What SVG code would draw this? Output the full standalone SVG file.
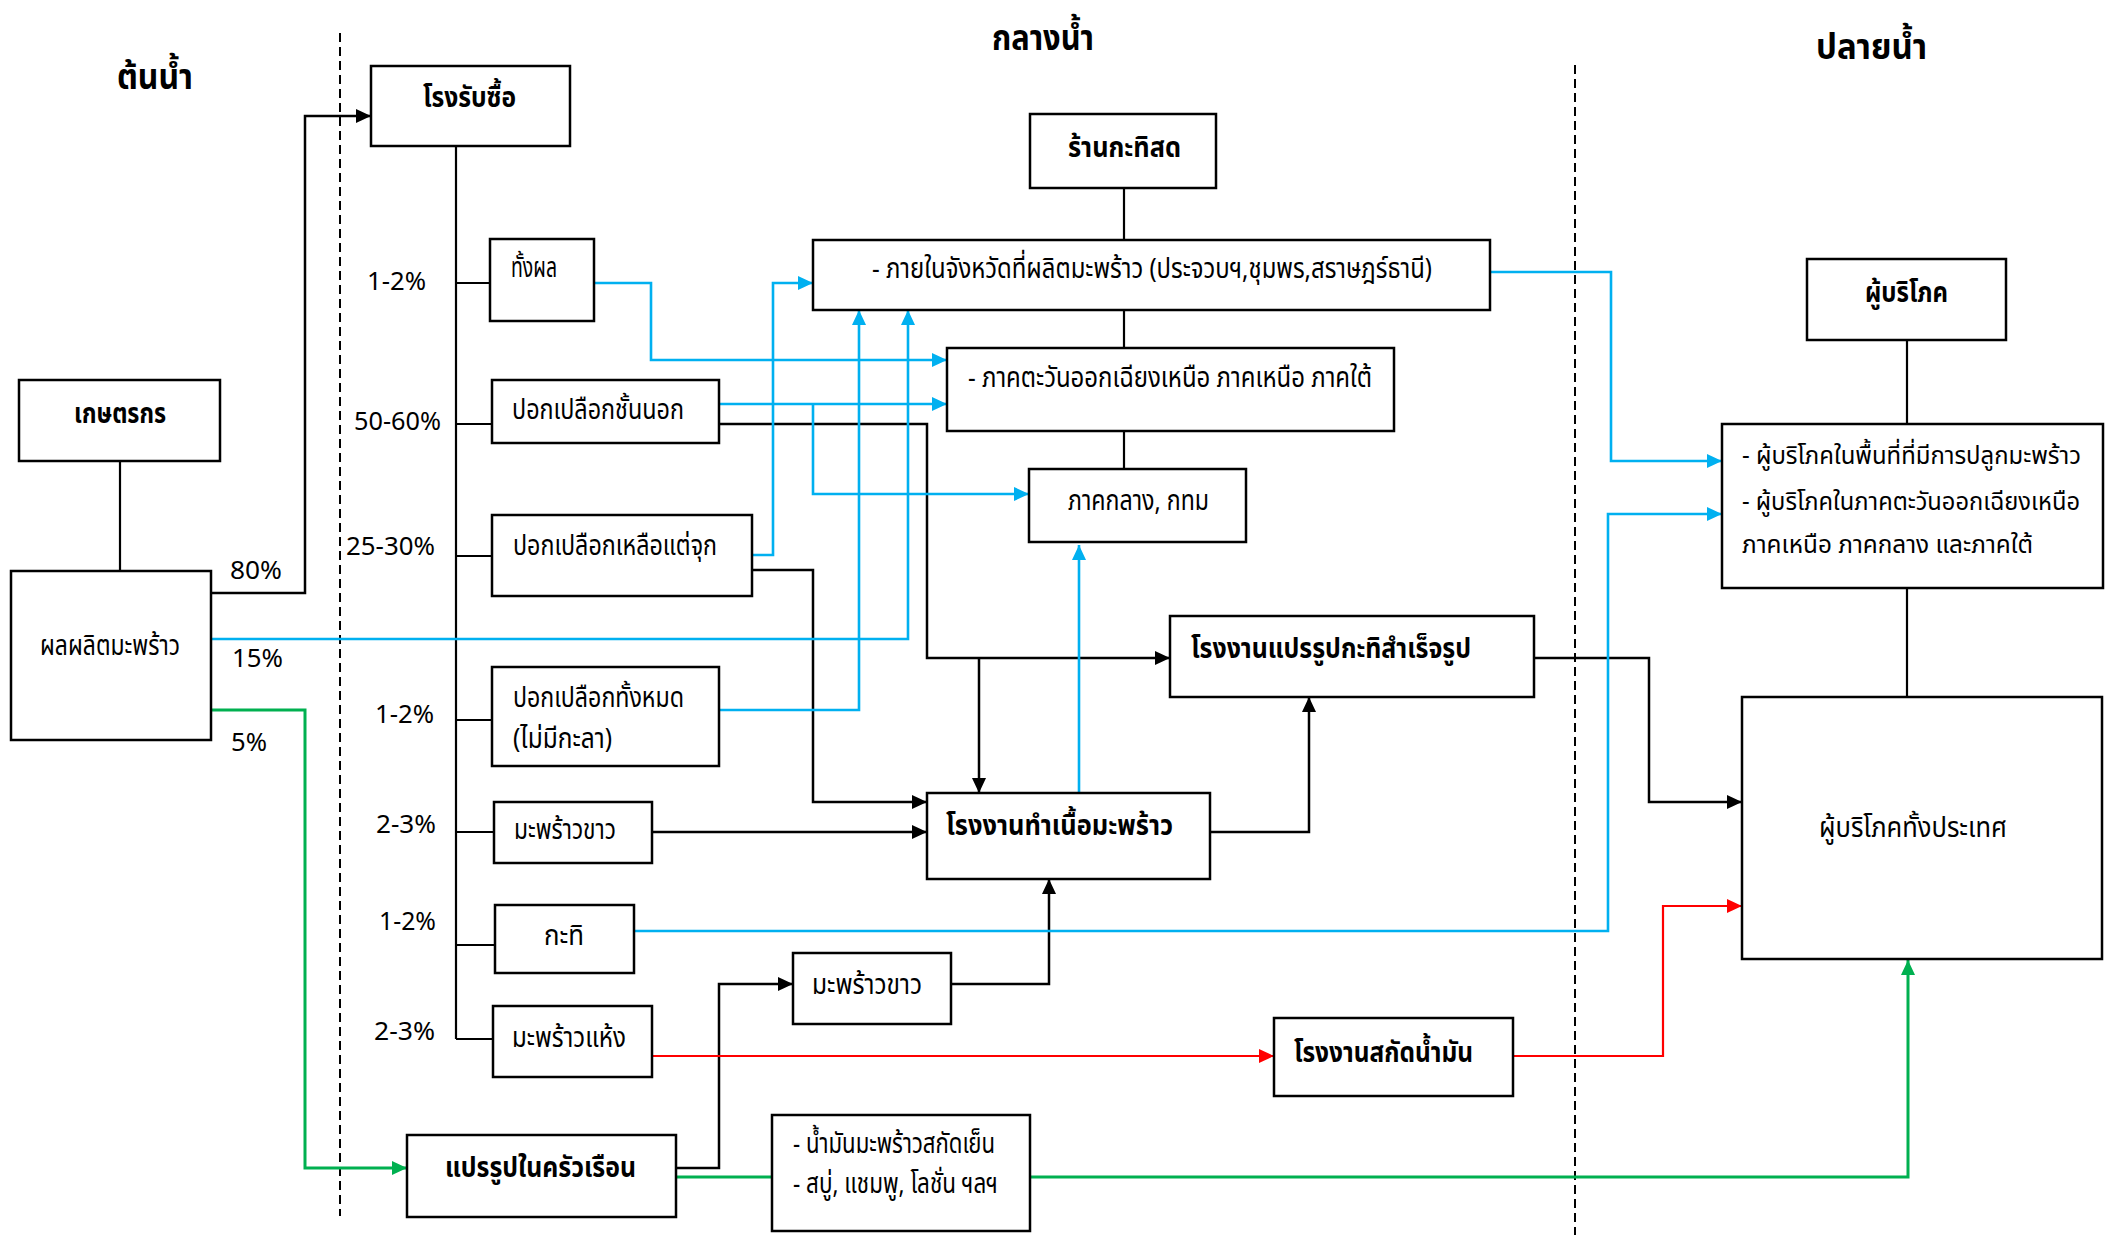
<svg xmlns="http://www.w3.org/2000/svg" width="2114" height="1235" viewBox="0 0 2114 1235">
<style>
text{font-family:"Noto Sans Thai","Noto Sans","Liberation Sans",sans-serif;fill:#000;}
.t{font-size:28px;}
.ts{font-size:25px;}
.b{font-size:28px;font-weight:bold;}
.h{font-size:35px;font-weight:bold;}
.p{font-size:25px;}
.box{fill:#fff;stroke:#000;stroke-width:2.5;}
.k{fill:none;stroke:#000;stroke-width:2.2;}
.ka{fill:none;stroke:#000;stroke-width:2.5;marker-end:url(#ak);}
.bla{fill:none;stroke:#00B0F0;stroke-width:2.6;marker-end:url(#ab);}
.rda{fill:none;stroke:#FF0000;stroke-width:2.2;marker-end:url(#ar);}
.gna{fill:none;stroke:#00B050;stroke-width:3;marker-end:url(#ag);}
.dash{fill:none;stroke:#000;stroke-width:2;stroke-dasharray:9 5;}
</style>
<defs>
<marker id="ak" markerUnits="userSpaceOnUse" markerWidth="15" markerHeight="14" refX="15" refY="7" orient="auto"><path d="M0,0 L15,7 L0,14 z" fill="#000"/></marker>
<marker id="ab" markerUnits="userSpaceOnUse" markerWidth="15" markerHeight="14" refX="15" refY="7" orient="auto"><path d="M0,0 L15,7 L0,14 z" fill="#00B0F0"/></marker>
<marker id="ar" markerUnits="userSpaceOnUse" markerWidth="15" markerHeight="14" refX="15" refY="7" orient="auto"><path d="M0,0 L15,7 L0,14 z" fill="#FF0000"/></marker>
<marker id="ag" markerUnits="userSpaceOnUse" markerWidth="15" markerHeight="14" refX="15" refY="7" orient="auto"><path d="M0,0 L15,7 L0,14 z" fill="#00B050"/></marker>
</defs>
<rect width="2114" height="1235" fill="#fff"/>

<g id="stage-lines">
<line class="dash" x1="340" y1="33" x2="340" y2="1216"/>
<line class="dash" x1="1575" y1="65" x2="1575" y2="1235"/>
</g>
<g id="stage-titles">
<text class="h" x="117" y="89" textLength="76" lengthAdjust="spacingAndGlyphs">ต้นน้ำ</text>
<text class="h" x="992" y="50" textLength="102" lengthAdjust="spacingAndGlyphs">กลางน้ำ</text>
<text class="h" x="1816" y="59" textLength="111" lengthAdjust="spacingAndGlyphs">ปลายน้ำ</text>
</g>

<g id="connectors">
<path class="k" d="M120,461 V571"/>
<path class="k" d="M456,146 V1039"/>
<path class="k" d="M456,283 H490 M456,424 H492 M456,556 H492 M456,720 H492 M456,832 H494 M456,945 H495 M456,1039 H493"/>
<path class="k" d="M1124,188 V240 M1124,310 V348 M1124,431 V469"/>
<path class="k" d="M1907,340 V424 M1907,588 V697"/>
<path class="ka" d="M211,593 H305 V116 H371"/>
<path class="ka" d="M719,424 H927 V658 H1170"/>
<path class="ka" d="M979,658 V793"/>
<path class="ka" d="M752,570 H813 V802 H927"/>
<path class="ka" d="M652,832 H927"/>
<path class="ka" d="M1210,832 H1309 V697"/>
<path class="ka" d="M951,984 H1049 V879"/>
<path class="ka" d="M676,1168 H719 V984 H793"/>
<path class="ka" d="M1534,658 H1649 V802 H1742"/>
<path class="bla" d="M594,283 H651 V360 H947"/>
<path class="bla" d="M719,404 H947"/>
<path class="bla" d="M813,404 V494 H1029"/>
<path class="bla" d="M752,555 H773 V283 H813"/>
<path class="bla" d="M719,710 H859 V310"/>
<path class="bla" d="M211,639 H908 V310"/>
<path class="bla" d="M1490,272 H1611 V461 H1722"/>
<path class="bla" d="M634,931 H1608 V514 H1722"/>
<path class="bla" d="M1079,793 V545"/>
<path class="rda" d="M652,1056 H1274"/>
<path class="rda" d="M1513,1056 H1663 V906 H1742"/>
<path class="gna" d="M211,710 H305 V1168 H407"/>
<path class="gna" d="M676,1177 H1908 V960"/>
</g>

<g id="percent-labels">
<text class="p" x="230" y="579" textLength="52" lengthAdjust="spacingAndGlyphs">80%</text>
<text class="p" x="232" y="667" textLength="51" lengthAdjust="spacingAndGlyphs">15%</text>
<text class="p" x="231" y="751" textLength="36" lengthAdjust="spacingAndGlyphs">5%</text>
<text class="p" x="367" y="290" textLength="59" lengthAdjust="spacingAndGlyphs">1-2%</text>
<text class="p" x="354" y="430" textLength="87" lengthAdjust="spacingAndGlyphs">50-60%</text>
<text class="p" x="346" y="555" textLength="89" lengthAdjust="spacingAndGlyphs">25-30%</text>
<text class="p" x="375" y="723" textLength="59" lengthAdjust="spacingAndGlyphs">1-2%</text>
<text class="p" x="376" y="833" textLength="60" lengthAdjust="spacingAndGlyphs">2-3%</text>
<text class="p" x="379" y="930" textLength="57" lengthAdjust="spacingAndGlyphs">1-2%</text>
<text class="p" x="374" y="1040" textLength="61" lengthAdjust="spacingAndGlyphs">2-3%</text>
</g>

<g id="n-buyer"><rect class="box" x="371" y="66" width="199" height="80"/><text class="b" x="423" y="107" textLength="93" lengthAdjust="spacingAndGlyphs">โรงรับซื้อ</text></g>
<g id="n-farmer"><rect class="box" x="19" y="380" width="201" height="81"/><text class="b" x="74" y="423" textLength="92" lengthAdjust="spacingAndGlyphs">เกษตรกร</text></g>
<g id="n-produce"><rect class="box" x="11" y="571" width="200" height="169"/><text class="t" x="40" y="655" textLength="140" lengthAdjust="spacingAndGlyphs">ผลผลิตมะพร้าว</text></g>
<g id="n-whole"><rect class="box" x="490" y="239" width="104" height="82"/><text class="t" x="511" y="277" textLength="46" lengthAdjust="spacingAndGlyphs">ทั้งผล</text></g>
<g id="n-outer"><rect class="box" x="492" y="380" width="227" height="63"/><text class="t" x="512" y="419" textLength="172" lengthAdjust="spacingAndGlyphs">ปอกเปลือกชั้นนอก</text></g>
<g id="n-tip"><rect class="box" x="492" y="515" width="260" height="81"/><text class="t" x="513" y="555" textLength="204" lengthAdjust="spacingAndGlyphs">ปอกเปลือกเหลือแต่จุก</text></g>
<g id="n-all"><rect class="box" x="492" y="667" width="227" height="99"/><text class="t" x="513" y="707" textLength="171" lengthAdjust="spacingAndGlyphs">ปอกเปลือกทั้งหมด</text><text class="t" x="513" y="748" textLength="99" lengthAdjust="spacingAndGlyphs">(ไม่มีกะลา)</text></g>
<g id="n-white1"><rect class="box" x="494" y="802" width="158" height="61"/><text class="t" x="514" y="839" textLength="102" lengthAdjust="spacingAndGlyphs">มะพร้าวขาว</text></g>
<g id="n-milk"><rect class="box" x="495" y="905" width="139" height="68"/><text class="t" x="544" y="945" textLength="40" lengthAdjust="spacingAndGlyphs">กะทิ</text></g>
<g id="n-dry"><rect class="box" x="493" y="1006" width="159" height="71"/><text class="t" x="512" y="1047" textLength="114" lengthAdjust="spacingAndGlyphs">มะพร้าวแห้ง</text></g>
<g id="n-household"><rect class="box" x="407" y="1135" width="269" height="82"/><text class="b" x="445" y="1177" textLength="191" lengthAdjust="spacingAndGlyphs">แปรรูปในครัวเรือน</text></g>
<g id="n-white2"><rect class="box" x="793" y="953" width="158" height="71"/><text class="t" x="812" y="994" textLength="110" lengthAdjust="spacingAndGlyphs">มะพร้าวขาว</text></g>
<g id="n-products"><rect class="box" x="772" y="1115" width="258" height="116"/><text class="t" x="793" y="1153" textLength="202" lengthAdjust="spacingAndGlyphs">- น้ำมันมะพร้าวสกัดเย็น</text><text class="t" x="793" y="1193" textLength="205" lengthAdjust="spacingAndGlyphs">- สบู่, แชมพู, โลชั่น ฯลฯ</text></g>
<g id="n-shop"><rect class="box" x="1030" y="114" width="186" height="74"/><text class="b" x="1068" y="157" textLength="113" lengthAdjust="spacingAndGlyphs">ร้านกะทิสด</text></g>
<g id="n-province"><rect class="box" x="813" y="240" width="677" height="70"/><text class="t" x="872" y="278" textLength="560" lengthAdjust="spacingAndGlyphs">- ภายในจังหวัดที่ผลิตมะพร้าว (ประจวบฯ,ชุมพร,สราษฎร์ธานี)</text></g>
<g id="n-regions"><rect class="box" x="947" y="348" width="447" height="83"/><text class="t" x="968" y="387" textLength="404" lengthAdjust="spacingAndGlyphs">- ภาคตะวันออกเฉียงเหนือ ภาคเหนือ ภาคใต้</text></g>
<g id="n-central"><rect class="box" x="1029" y="469" width="217" height="73"/><text class="t" x="1068" y="510" textLength="141" lengthAdjust="spacingAndGlyphs">ภาคกลาง, กทม</text></g>
<g id="n-readymilk"><rect class="box" x="1170" y="616" width="364" height="81"/><text class="b" x="1191" y="658" textLength="280" lengthAdjust="spacingAndGlyphs">โรงงานแปรรูปกะทิสำเร็จรูป</text></g>
<g id="n-meat"><rect class="box" x="927" y="793" width="283" height="86"/><text class="b" x="946" y="835" textLength="227" lengthAdjust="spacingAndGlyphs">โรงงานทำเนื้อมะพร้าว</text></g>
<g id="n-oil"><rect class="box" x="1274" y="1018" width="239" height="78"/><text class="b" x="1294" y="1062" textLength="179" lengthAdjust="spacingAndGlyphs">โรงงานสกัดน้ำมัน</text></g>
<g id="n-consumer"><rect class="box" x="1807" y="259" width="199" height="81"/><text class="b" x="1865" y="302" textLength="83" lengthAdjust="spacingAndGlyphs">ผู้บริโภค</text></g>
<g id="n-consumer-areas"><rect class="box" x="1722" y="424" width="381" height="164"/><text class="ts" x="1742" y="464" textLength="339" lengthAdjust="spacingAndGlyphs">- ผู้บริโภคในพื้นที่ที่มีการปลูกมะพร้าว</text><text class="ts" x="1742" y="510" textLength="338" lengthAdjust="spacingAndGlyphs">- ผู้บริโภคในภาคตะวันออกเฉียงเหนือ</text><text class="ts" x="1742" y="553" textLength="291" lengthAdjust="spacingAndGlyphs">ภาคเหนือ ภาคกลาง และภาคใต้</text></g>
<g id="n-nation"><rect class="box" x="1742" y="697" width="360" height="262"/><text class="t" x="1819" y="837" textLength="188" lengthAdjust="spacingAndGlyphs">ผู้บริโภคทั้งประเทศ</text></g>
</svg>
